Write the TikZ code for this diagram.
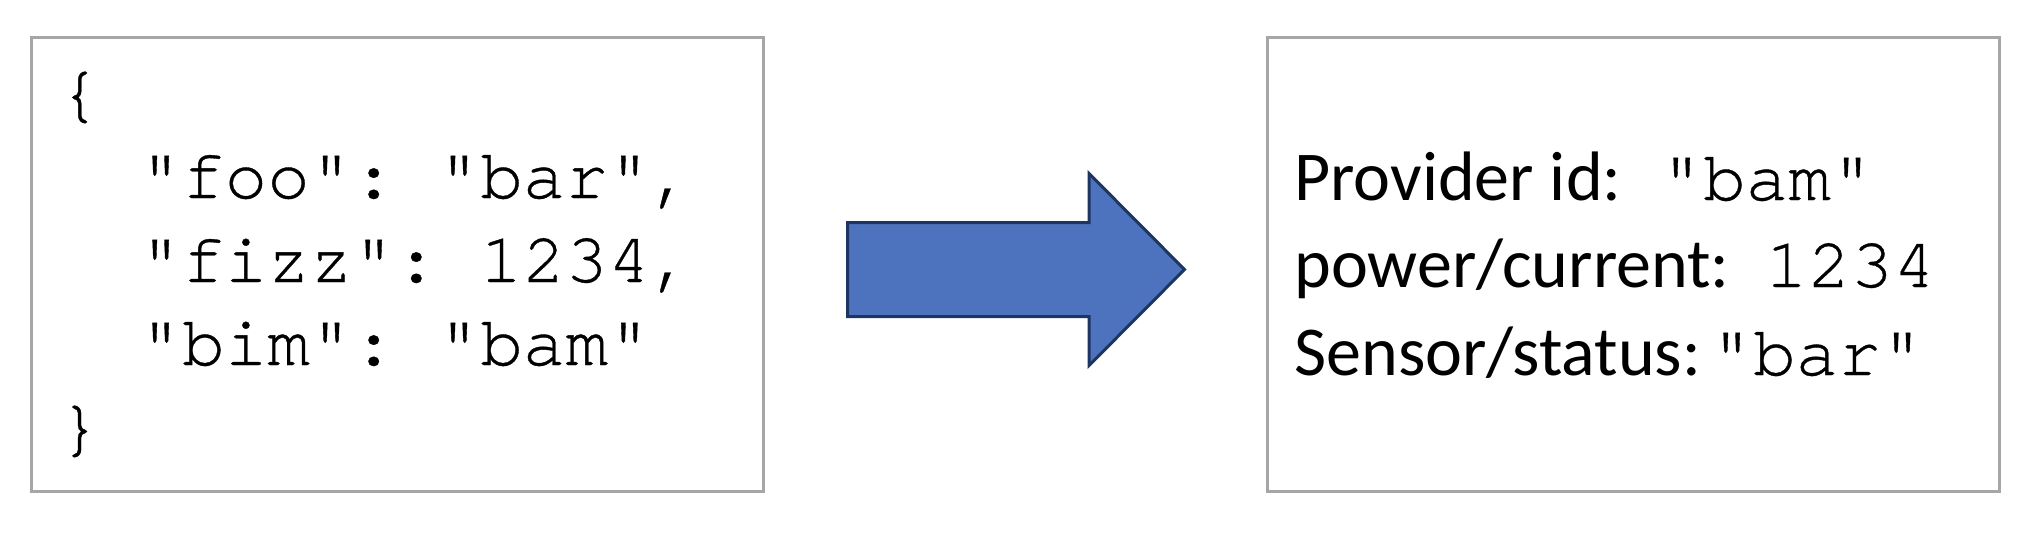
\documentclass[tikz,border=0pt]{standalone}
\usepackage{fontspec}
\setmonofont[Ligatures=NoCommon,FakeBold=0.5]{TeX Gyre Cursor}
\newfontfamily\calib{Carlito}
\definecolor{boxgray}{HTML}{A6A6A6}
\definecolor{arrowfill}{HTML}{4E73BE}
\definecolor{arrowedge}{HTML}{1F3561}
\begin{document}
\begin{tikzpicture}[x=0.5pt,y=-0.5pt,
  panel/.style={draw=boxgray,line width=1.5pt,minimum width=366pt,minimum height=226.5pt,inner sep=0pt},
  codeline/.style={anchor=base west,inner sep=0pt,font=\fontsize{35.5pt}{42pt}\ttfamily},
  labline/.style={anchor=base west,inner sep=0pt,font=\fontsize{35pt}{42pt}\calib},
  valline/.style={anchor=base west,inner sep=0pt,font=\fontsize{35.5pt}{42pt}\ttfamily},
  blockarrow/.style={fill=arrowfill,draw=arrowedge,line width=1.5pt,line join=miter}]
\useasboundingbox (0,0) rectangle (2032,540);
\node[panel] (src) at (397,264.5) {};
\node[panel] (dst) at (1633.5,264.5) {};
% left code
\node[codeline] (l0) at (58,114.5) {\{};
\node[codeline] (l1) at (139,198) {"foo": "bar",};
\node[codeline] (l2) at (139,282) {"fizz": 1234,};
\node[codeline] (l3) at (139,365) {"bim": "bam"};
\node[codeline] (l4) at (58,448.5) {\}};
% right text
\node[labline] (r1) at (1294,200) {Provider id:};
\node[labline] (r2) at (1294,287) {power/current:};
\node[labline] (r3) at (1294,375) {Sensor/status:};
\node[valline] (v1) at (1660,200) {"bam"};
\node[valline] (v2) at (1765,287) {1234};
\node[valline] (v3) at (1710,375) {"bar"};
% arrow
\coordinate (a0) at (847.6,222.5);
\coordinate (a1) at (1089,222.5);
\coordinate (a2) at (1089,173.5);
\coordinate (tip) at (1184.5,269.5);
\coordinate (a3) at (1089,365.5);
\coordinate (a4) at (1089,316.5);
\coordinate (a5) at (847.6,316.5);
\draw[blockarrow] (a0) -- (a1) -- (a2) -- (tip) -- (a3) -- (a4) -- (a5) -- cycle;
\end{tikzpicture}
\end{document}
